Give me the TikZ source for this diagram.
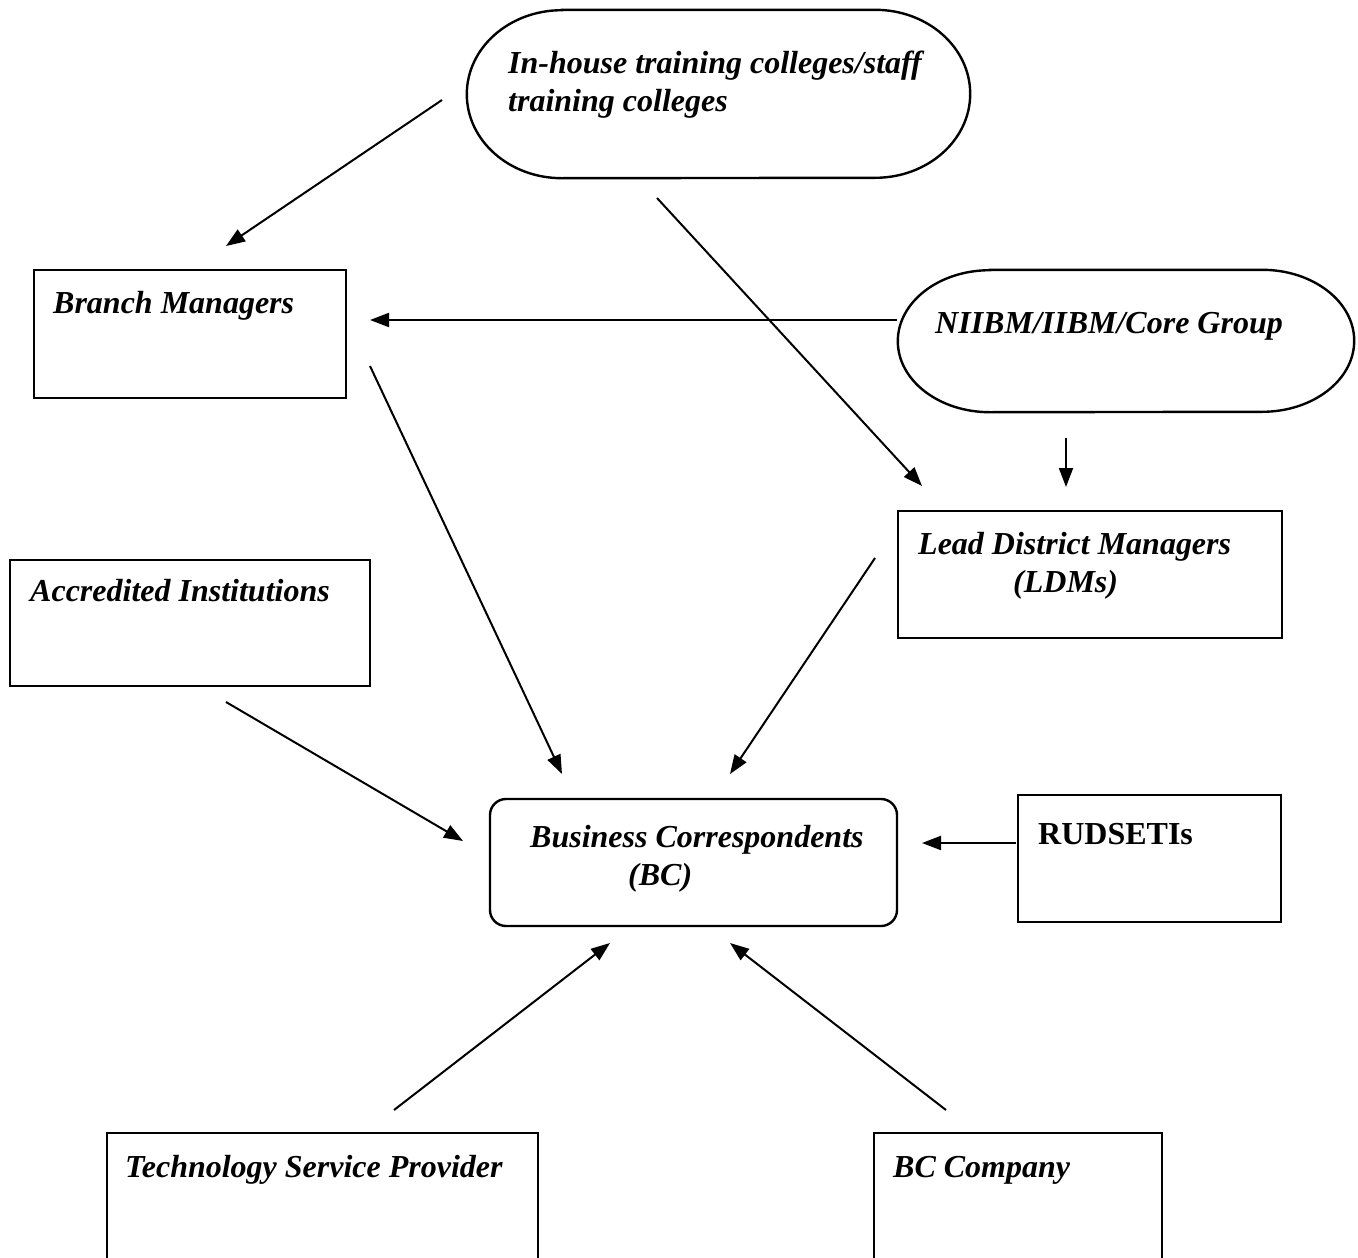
\documentclass[tikz,border=0pt]{standalone}
\usepackage{fontspec}
\setmainfont{Liberation Serif}
\usetikzlibrary{arrows.meta}
\tikzset{
  box/.style={draw, line width=2.4pt, inner sep=0pt},
  lbl/.style={anchor=base west, inner sep=0pt, font=\fontsize{32}{38}\selectfont\bfseries\itshape},
  rudlbl/.style={anchor=base west, inner sep=0pt, font=\fontsize{32}{38}\selectfont\bfseries},
  conn/.style={line width=2pt, -{Triangle[length=19pt,width=14pt]}},
  ghost/.style={inner sep=0pt}
}
\begin{document}
\begin{tikzpicture}[x=1pt,y=-1pt]
\useasboundingbox[fill=white] (0,0) rectangle (1358,1258);
\clip (0,0) rectangle (1358,1258);

% stadium shapes
\node[ghost, minimum width=503pt, minimum height=168pt] (inh) at (718.5,94) {};
\draw[line width=2.4pt] ([xshift=95pt]inh.north west) -- ([xshift=-95pt]inh.north east)
  arc[start angle=90,end angle=-90,x radius=95pt,y radius=84pt]
  -- ([xshift=95pt]inh.south west)
  arc[start angle=270,end angle=90,x radius=95pt,y radius=84pt] -- cycle;
\node[ghost, minimum width=456pt, minimum height=142pt] (nii) at (1126,341) {};
\draw[line width=2.4pt] ([xshift=92pt]nii.north west) -- ([xshift=-92pt]nii.north east)
  arc[start angle=90,end angle=-90,x radius=92pt,y radius=71pt]
  -- ([xshift=92pt]nii.south west)
  arc[start angle=270,end angle=90,x radius=92pt,y radius=71pt] -- cycle;

% boxes
\node[box, minimum width=312pt, minimum height=128pt] (bm) at (190,334) {};
\node[box, minimum width=384pt, minimum height=127pt] (ldm) at (1090,574.5) {};
\node[box, minimum width=360pt, minimum height=126pt] (acc) at (190,623) {};
\node[box, rounded corners=16pt, minimum width=407pt, minimum height=127pt] (bc) at (693.5,862.5) {};
\node[box, minimum width=263pt, minimum height=127pt] (rud) at (1149.5,858.5) {};
\node[box, minimum width=431pt, minimum height=167pt] (tsp) at (322.5,1216.5) {};
\node[box, minimum width=288pt, minimum height=167pt] (bcc) at (1018,1216.5) {};

% labels
\node[lbl] (tinh1) at (508,73) {In-house training colleges/staff};
\node[lbl] (tinh2) at (508,111) {training colleges};
\node[lbl] (tbm) at (53,313) {Branch Managers};
\node[lbl] (tnii) at (935,333) {NIIBM/IIBM/Core Group};
\node[lbl] (tldm1) at (918,554) {Lead District Managers};
\node[lbl] (tldm2) at (1013,592) {(LDMs)};
\node[lbl] (tacc) at (30,601) {Accredited Institutions};
\node[lbl] (tbc1) at (530,847) {Business Correspondents};
\node[lbl] (tbc2) at (628,885) {(BC)};
\node[rudlbl] (trud) at (1038,844) {RUDSETIs};
\node[lbl] (ttsp) at (125,1177) {Technology Service Provider};
\node[lbl] (tbcc) at (893,1177) {BC Company};

% connector end points
\coordinate (a1s) at (442,100);  \coordinate (a1e) at (226,246);
\coordinate (a2s) at (657,198);  \coordinate (a2e) at (922,486);
\coordinate (a3s) at (897,320);  \coordinate (a3e) at (370,320);
\coordinate (a4s) at (1066,438); \coordinate (a4e) at (1066,487);
\coordinate (a5s) at (370,366);  \coordinate (a5e) at (562,774);
\coordinate (a6s) at (875,558);  \coordinate (a6e) at (730,774);
\coordinate (a7s) at (226,702);  \coordinate (a7e) at (463,841);
\coordinate (a8s) at (1016,843); \coordinate (a8e) at (922,843);
\coordinate (a9s) at (394,1110); \coordinate (a9e) at (610,943);
\coordinate (a10s) at (946,1110); \coordinate (a10e) at (730,943);

\draw[conn] (a1s) -- (a1e);
\draw[conn] (a2s) -- (a2e);
\draw[conn] (a3s) -- (a3e);
\draw[conn] (a4s) -- (a4e);
\draw[conn] (a5s) -- (a5e);
\draw[conn] (a6s) -- (a6e);
\draw[conn] (a7s) -- (a7e);
\draw[conn] (a8s) -- (a8e);
\draw[conn] (a9s) -- (a9e);
\draw[conn] (a10s) -- (a10e);
\end{tikzpicture}
\end{document}
